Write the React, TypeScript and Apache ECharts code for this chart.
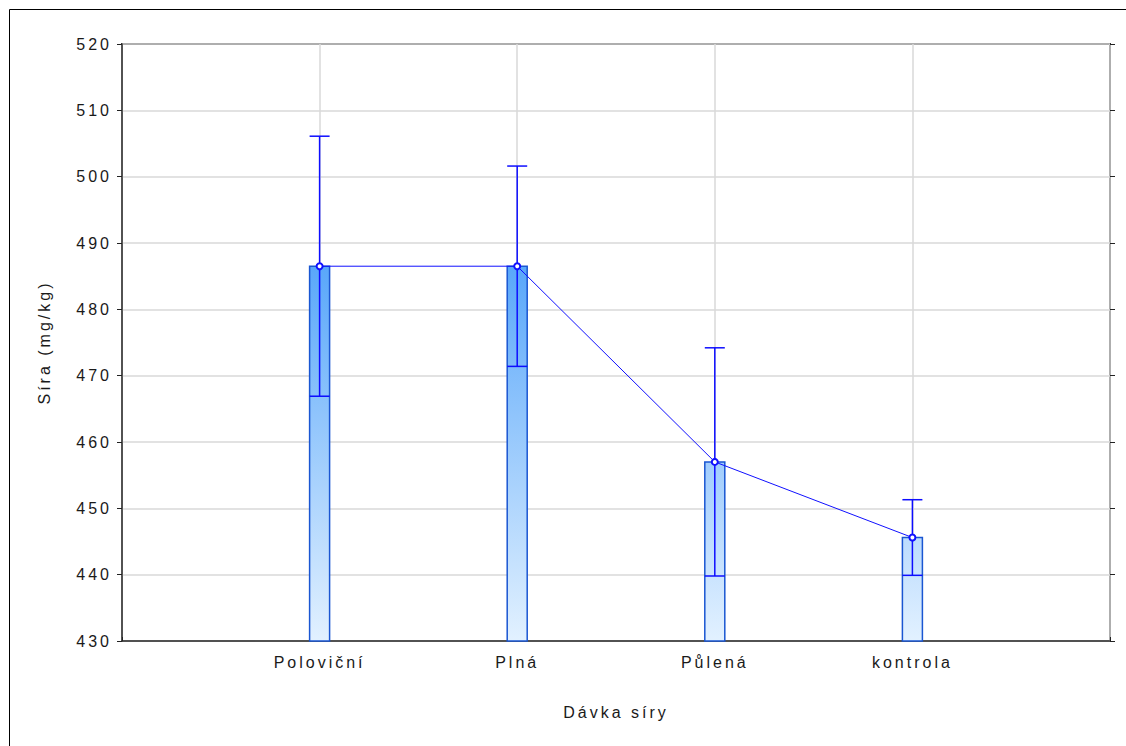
import React, { useEffect, useRef } from "react";
import * as echarts from "echarts";

// Dose groups; the empty slots pad the axis so the groups sit at 1..4 of 0..5
const categories = ["", "Poloviční", "Plná", "Půlená", "kontrola", ""];
const groups = ["Poloviční", "Plná", "Půlená", "kontrola"];
// Mean sulphur content (mg/kg) and the half-width of its error bar
const means = [486.5, 486.5, 457.0, 445.6];
const errors = [19.6, 15.1, 17.2, 5.7];
const yTicks = { min: 430, max: 520, step: 10 };

const LIGHT = [0xe2, 0xf1, 0xff];
const DARK = [0x58, 0xa6, 0xfa];

function shade(v: number): string {
  const t = Math.max(0, Math.min(1, (v - yTicks.min) / (487 - yTicks.min)));
  const c = LIGHT.map((l, i) => Math.round(l + (DARK[i] - l) * t));
  return `rgb(${c[0]},${c[1]},${c[2]})`;
}

export default function App() {
  const ref = useRef<HTMLDivElement>(null);

  useEffect(() => {
    if (!ref.current) return;
    const chart = echarts.init(ref.current, undefined, { renderer: "svg" });

    const barData = groups.map((g, i) => [i + 1, means[i], errors[i]]);
    const font = "'Liberation Sans', Arial, sans-serif";
    const ink = "#1a1a1a";

    chart.setOption({
      animation: false,
      backgroundColor: "#ffffff",
      textStyle: { fontFamily: font },
      graphic: [
        {
          type: "rect",
          shape: { x: 9.5, y: 9.5, width: 1300, height: 1000 },
          style: { fill: "none", stroke: "#000000", lineWidth: 1 },
          silent: true,
          z: 0,
        },
      ],
      grid: {
        left: 122,
        top: 44,
        right: 16,
        bottom: 105,
        show: true,
        borderColor: "#333333",
        borderWidth: 2,
        backgroundColor: "transparent",
      },
      xAxis: {
        type: "category",
        data: categories,
        boundaryGap: false,
        name: "Dávka síry",
        nameLocation: "middle",
        nameGap: 63,
        nameTextStyle: { fontSize: 16, color: ink, fontFamily: font },
        axisLine: { show: true, lineStyle: { color: "#333333", width: 1.5 } },
        axisTick: { show: true, inside: true, length: 4, lineStyle: { color: "#222" } },
        axisLabel: { margin: 13, fontSize: 16, color: ink, fontFamily: font },
        splitLine: { show: true, lineStyle: { color: "#d9d9d9", width: 1.5 } },
      },
      yAxis: [
        {
          type: "value",
          min: yTicks.min,
          max: yTicks.max,
          interval: yTicks.step,
          name: "Síra (mg/kg)",
          nameLocation: "middle",
          nameGap: 70,
          nameTextStyle: { fontSize: 16, color: ink, fontFamily: font },
          axisLine: { show: true, lineStyle: { color: "#333333", width: 1.5 } },
          axisTick: { show: true, length: 5, lineStyle: { color: "#222" } },
          axisLabel: { margin: 10, fontSize: 16, color: ink, fontFamily: font },
          splitLine: { show: true, lineStyle: { color: "#d9d9d9", width: 1.5 } },
        },
        {
          type: "value",
          position: "right",
          min: yTicks.min,
          max: yTicks.max,
          interval: yTicks.step,
          axisLine: { show: false },
          axisTick: { show: true, length: 5, lineStyle: { color: "#222" } },
          axisLabel: { show: false },
          splitLine: { show: false },
        },
      ],
      series: [
        {
          type: "custom",
          name: "bars",
          data: barData,
          z: 3,
          renderItem: (params: any, api: any) => {
            const x = api.value(0);
            const m = api.value(1);
            const e = api.value(2);
            const top = api.coord([x, m]);
            const base = api.coord([x, yTicks.min]);
            const hi = api.coord([x, m + e]);
            const lo = api.coord([x, m - e]);
            const w = 20;
            const cx = top[0];
            const blue = "#0d0dff";
            return {
              type: "group",
              children: [
                {
                  type: "rect",
                  shape: { x: cx - w / 2, y: top[1], width: w, height: base[1] - top[1] },
                  style: {
                    fill: new echarts.graphic.LinearGradient(0, 0, 0, 1, [
                      { offset: 0, color: shade(m) },
                      { offset: 1, color: shade(yTicks.min) },
                    ]),
                    stroke: "#1a56d2",
                    lineWidth: 1.5,
                  },
                },
                {
                  type: "line",
                  shape: { x1: cx, y1: hi[1], x2: cx, y2: lo[1] },
                  style: { stroke: blue, lineWidth: 1.5 },
                },
                {
                  type: "line",
                  shape: { x1: cx - w / 2, y1: hi[1], x2: cx + w / 2, y2: hi[1] },
                  style: { stroke: blue, lineWidth: 1.5 },
                },
                {
                  type: "line",
                  shape: { x1: cx - w / 2, y1: lo[1], x2: cx + w / 2, y2: lo[1] },
                  style: { stroke: blue, lineWidth: 1.5 },
                },
              ],
            };
          },
        },
        {
          type: "line",
          name: "mean",
          data: [null, ...means, null],
          z: 4,
          symbol: "emptyCircle",
          symbolSize: 6,
          lineStyle: { color: "#1010ff", width: 1 },
          itemStyle: { color: "#1010ff", borderWidth: 1.5 },
        },
      ],
    });

    return () => chart.dispose();
  }, []);

  return (
    <div
      ref={ref}
      style={{
        position: "fixed",
        left: 0,
        top: 0,
        width: 1126,
        height: 746,
        letterSpacing: "3px",
      }}
    />
  );
}
